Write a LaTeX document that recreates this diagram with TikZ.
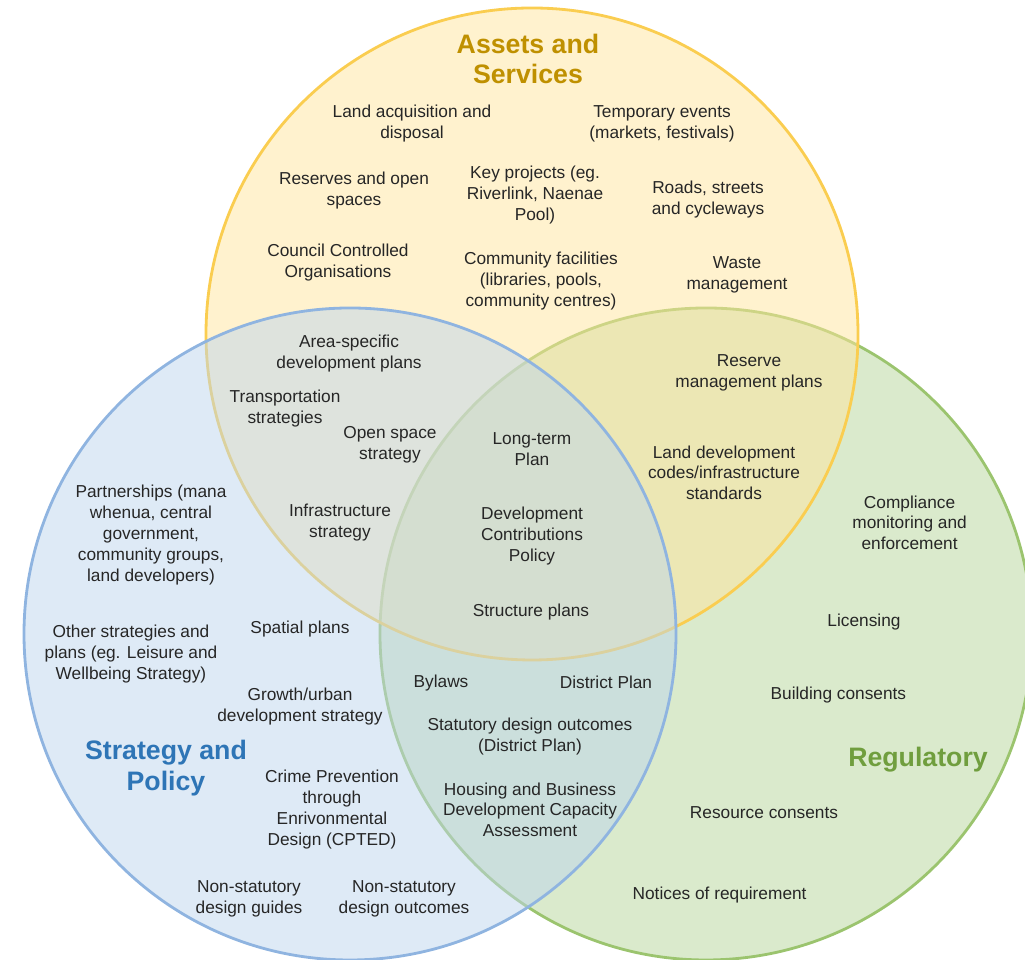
\documentclass[tikz,border=0pt]{standalone}
\usepackage{fontspec}
\setmainfont{Liberation Sans}
\usepackage{tikz}
\definecolor{assetsfill}{RGB}{255,229,157}
\definecolor{assetsline}{RGB}{250,205,80}
\definecolor{assetstext}{RGB}{191,144,0}
\definecolor{policyfill}{RGB}{189,213,237}
\definecolor{policyline}{RGB}{143,180,224}
\definecolor{policytext}{RGB}{46,117,182}
\definecolor{regfill}{RGB}{181,213,153}
\definecolor{regline}{RGB}{155,196,110}
\definecolor{regtext}{RGB}{112,158,62}
\newcommand{\venntext}{\fontsize{12.3}{14.9}\selectfont}
\newcommand{\venntitle}{\fontsize{19}{22}\selectfont\bfseries}

\begin{document}
\begin{tikzpicture}[
    ring/.style={circle, minimum size=16.3cm, inner sep=0pt, line width=2pt, fill opacity=0.5},
    item/.style={align=center, inner sep=0pt, yshift=-2pt, font=\venntext, text=black!85},
    title/.style={align=center, inner sep=0pt, yshift=-1pt, font=\venntitle}
]
\useasboundingbox (0,0) rectangle (25.625,24);

\node[ring, fill=regfill, draw=regline] (regulatory) at (17.65, 8.15) {};
\node[ring, fill=assetsfill, draw=assetsline] (assets) at (13.3, 15.65) {};
\node[ring, fill=policyfill, draw=policyline] (strategy) at (8.75, 8.15) {};

\node[title, assetstext] (assetsT) at (13.2, 22.56) {Assets and\\Services};
\node[title, policytext] (strategyT) at (4.15, 4.825) {Strategy and\\Policy};
\node[title, regtext] (regulatoryT) at (22.95, 5.04) {Regulatory};

\node[item] (land) at (10.3, 20.975) {Land acquisition and\\disposal};
\node[item] (events) at (16.55, 20.975) {Temporary events\\(markets, festivals)};
\node[item] (reserves) at (8.85, 19.31) {Reserves and open\\spaces};
\node[item] (keyproj) at (13.375, 19.2) {Key projects (eg.\\Riverlink, Naenae\\Pool)};
\node[item] (roads) at (17.7, 19.09) {Roads, streets\\and cycleways};
\node[item] (cco) at (8.45, 17.51) {Council Controlled\\Organisations};
\node[item] (facilities) at (13.525, 17.05) {Community facilities\\(libraries, pools,\\community centres)};
\node[item] (waste) at (18.425, 17.21) {Waste\\management};

\node[item] (areaplans) at (8.725, 15.24) {Area-specific\\development plans};
\node[item] (transport) at (7.125, 13.86) {Transportation\\strategies};
\node[item] (openspace) at (9.75, 12.94) {Open space\\strategy};
\node[item] (infra) at (8.5, 11.01) {Infrastructure\\strategy};

\node[item] (reservemgmt) at (18.725, 14.74) {Reserve\\management plans};
\node[item] (landdev) at (18.1, 12.25) {Land development\\codes/infrastructure\\standards};

\node[item] (ltp) at (13.3, 12.84) {Long-term\\Plan};
\node[item] (dcp) at (13.3, 10.675) {Development\\Contributions\\Policy};
\node[item] (structure) at (13.275, 8.775) {Structure plans};

\node[item] (partners) at (3.775, 10.7) {Partnerships (mana\\whenua, central\\government,\\community groups,\\land developers)};
\node[item] (otherstrat) at (3.275, 7.725) {Other strategies and\\plans (eg. Leisure and\\Wellbeing Strategy)};
\node[item] (spatial) at (7.5, 8.35) {Spatial plans};
\node[item] (growth) at (7.5, 6.41) {Growth/urban\\development strategy};
\node[item] (cpted) at (8.3, 3.84) {Crime Prevention\\through\\Enrivonmental\\Design (CPTED)};
\node[item] (nsguides) at (6.225, 1.61) {Non-statutory\\design guides};
\node[item] (nsoutcomes) at (10.1, 1.61) {Non-statutory\\design outcomes};

\node[item] (bylaws) at (11.025, 7.0) {Bylaws};
\node[item] (district) at (15.15, 7.0) {District Plan};
\node[item] (statutory) at (13.25, 5.66) {Statutory design outcomes\\(District Plan)};
\node[item] (hbdca) at (13.25, 3.825) {Housing and Business\\Development Capacity\\Assessment};

\node[item] (compliance) at (22.74, 11.0) {Compliance\\monitoring and\\enforcement};
\node[item] (licensing) at (21.6, 8.525) {Licensing};
\node[item] (building) at (20.96, 6.7) {Building consents};
\node[item] (resource) at (19.1, 3.75) {Resource consents};
\node[item] (notices) at (17.99, 1.7) {Notices of requirement};
\end{tikzpicture}
\end{document}
